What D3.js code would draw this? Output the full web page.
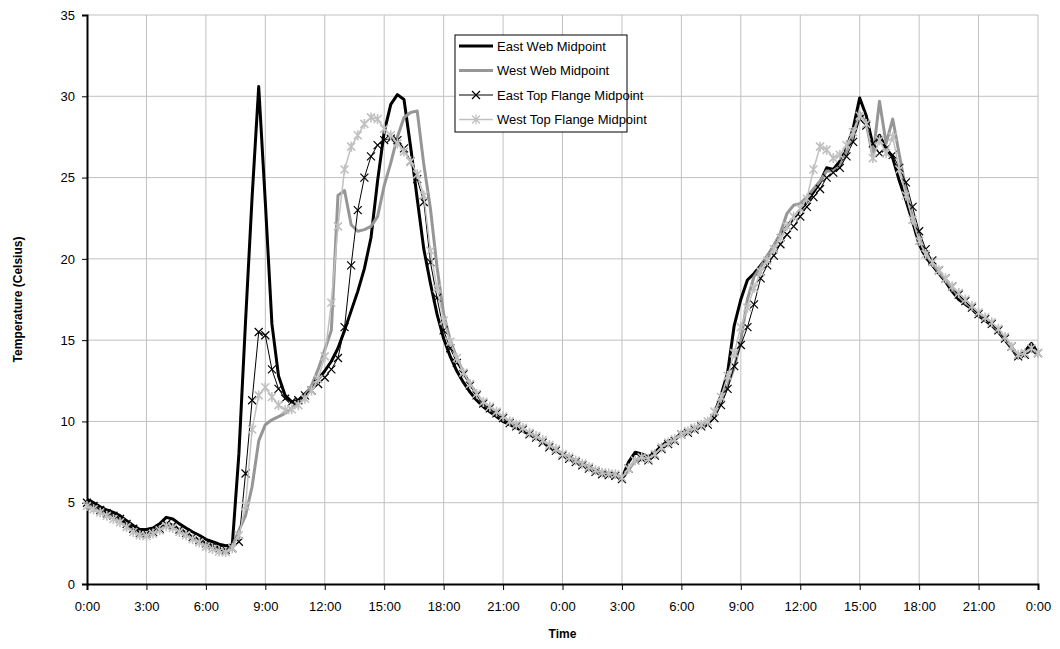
<!DOCTYPE html>
<html>
<head>
<meta charset="utf-8">
<script src="https://cdn.jsdelivr.net/npm/d3@7"></script>
<style>
  body { margin: 0; background: #fff; }
  svg text { font-family: "Liberation Sans", Arial, sans-serif; }
</style>
</head>
<body>
<div id="chart"></div>
<script>
// readings every 20 minutes over two days (index * 20 min)
let stepMinutes = 20;

let eastWeb = [
  5.2, 5.0, 4.75,  4.55, 4.4, 4.2,  3.9, 3.6, 3.35,  3.35, 3.45, 3.7,
  4.1, 4.0, 3.7,  3.45, 3.2, 3.0,  2.75, 2.6, 2.45,  2.35, 2.4, 8.0,
  16.1, 23.8, 30.6,  23.5, 16.0, 12.8,  11.6, 11.2, 11.3,  11.7, 12.1, 12.6,
  13.1, 13.7, 14.5,  15.6, 16.8, 18.0,  19.4, 21.3, 24.8,  27.8, 29.5, 30.1,
  29.8, 26.9, 23.7,  20.6, 18.5, 16.6,  15.1, 14.0, 13.1,  12.4, 11.8, 11.3,
  10.9, 10.6, 10.3,  10.0, 9.8, 9.6,  9.4, 9.2, 9.0,  8.75, 8.5, 8.25,
  8.0, 7.8, 7.6,  7.4, 7.2, 7.0,  6.85, 6.8, 6.8,  6.5, 7.5, 8.1,
  8.0, 7.8, 8.1,  8.5, 8.8, 8.9,  9.3, 9.4, 9.6,  9.75, 9.9, 10.5,
  11.6, 13.0, 15.9,  17.5, 18.7, 19.1,  19.6, 20.1, 20.8,  21.5, 22.0, 22.5,
  23.0, 23.5, 24.1,  24.7, 25.6, 25.5,  26.0, 26.8, 28.0,  29.9, 28.8, 27.0,
  27.6, 26.8, 26.2,  24.8, 23.6, 22.3,  20.9, 20.1, 19.6,  19.1, 18.6, 18.0,
  17.5, 17.2, 16.9,  16.5, 16.2, 15.9,  15.5, 15.0, 14.5,  13.9, 14.3, 14.8,
  14.2
];

let westWeb = [
  4.9, 4.7, 4.5,  4.3, 4.1, 3.9,  3.6, 3.3, 3.1,  3.1, 3.2, 3.4,
  3.7, 3.6, 3.3,  3.1, 2.85, 2.65,  2.45, 2.3, 2.15,  2.05, 2.3, 3.3,
  4.2, 6.0, 8.8,  9.8, 10.1, 10.3,  10.5, 10.8, 11.2,  11.6, 12.2, 13.2,
  14.4, 15.6, 23.9,  24.2, 22.1, 21.7,  21.8, 22.0, 22.6,  24.5, 25.9, 27.5,
  28.7, 29.0, 29.1,  25.8, 23.1, 19.5,  16.6, 15.0, 13.9,  13.0, 12.3, 11.7,
  11.1, 10.8, 10.5,  10.2, 9.95, 9.75,  9.5, 9.25, 9.05,  8.8, 8.5, 8.25,
  8.0, 7.75, 7.55,  7.35, 7.15, 6.95,  6.8, 6.75, 6.7,  6.45, 7.0, 7.6,
  7.7, 7.6, 7.95,  8.35, 8.6, 8.85,  9.2, 9.35, 9.55,  9.7, 9.85, 10.3,
  11.2, 12.2, 13.3,  15.0, 17.5, 18.9,  19.5, 20.2, 20.8,  21.6, 22.8, 23.3,
  23.4, 23.8, 24.3,  24.8, 25.4, 25.4,  25.7, 26.6, 27.6,  29.0, 28.3, 26.3,
  29.7, 27.1, 28.6,  26.4, 24.2, 22.6,  21.3, 20.3, 19.7,  19.2, 18.7, 18.2,
  17.7, 17.3, 17.0,  16.6, 16.3, 16.0,  15.6, 15.1, 14.6,  14.0, 14.2, 14.4,
  14.1
];

let eastFlange = [
  5.0, 4.8, 4.55,  4.35, 4.2, 4.0,  3.7, 3.4, 3.15,  3.1, 3.2, 3.4,
  3.7, 3.6, 3.35,  3.15, 2.9, 2.7,  2.5, 2.35, 2.2,  2.1, 2.2, 2.6,
  6.8, 11.3, 15.5,  15.3, 13.2, 12.0,  11.4, 11.2, 11.3,  11.6, 11.9, 12.3,
  12.7, 13.2, 13.9,  15.8, 19.6, 23.0,  25.0, 26.3, 27.0,  27.3, 27.4, 27.3,
  26.8, 26.0, 24.9,  23.5, 19.8, 17.6,  15.6, 14.5, 13.6,  12.9, 12.2, 11.6,
  11.1, 10.8, 10.5,  10.2, 9.9, 9.7,  9.5, 9.2, 9.0,  8.7, 8.4, 8.2,
  7.9, 7.7, 7.5,  7.3, 7.1, 6.9,  6.75, 6.7, 6.65,  6.45, 7.1, 7.6,
  7.7, 7.6, 7.9,  8.3, 8.6, 8.8,  9.2, 9.3, 9.5,  9.7, 9.8, 10.2,
  11.0, 12.0, 13.4,  14.7, 15.8, 17.2,  18.8, 19.6, 20.2,  20.9, 21.5, 22.0,
  22.6, 23.2, 23.8,  24.3, 25.0, 25.3,  25.6, 26.3, 27.2,  28.6, 28.2, 27.1,
  26.5, 26.8, 26.4,  25.6, 24.7, 23.2,  21.7, 20.6, 19.9,  19.3, 18.8, 18.3,
  17.8, 17.4, 17.0,  16.6, 16.3, 16.0,  15.6, 15.1, 14.6,  14.0, 14.1, 14.4,
  14.2
];

let westFlange = [
  4.8, 4.6, 4.4,  4.2, 4.0, 3.8,  3.5, 3.2, 3.0,  2.95, 3.1, 3.3,
  3.55, 3.45, 3.2,  3.0, 2.75, 2.55,  2.3, 2.15, 2.0,  1.95, 2.2, 3.0,
  4.8, 9.5, 11.6,  12.1, 11.5, 11.0,  10.7, 10.75, 11.0,  11.4, 11.9, 12.6,
  14.0, 17.3, 22.0,  25.5, 26.9, 27.6,  28.3, 28.7, 28.6,  28.0, 27.6, 27.1,
  26.6, 26.0, 25.2,  23.9, 20.5, 18.2,  16.2, 14.9, 13.9,  13.0, 12.3, 11.7,
  11.2, 10.9, 10.6,  10.3, 10.0, 9.8,  9.6, 9.3, 9.1,  8.85, 8.55, 8.3,
  8.0, 7.8, 7.6,  7.4, 7.2, 7.0,  6.85, 6.8, 6.75,  6.55, 7.1, 7.6,
  7.8, 7.7, 8.0,  8.4, 8.7, 8.9,  9.2, 9.4, 9.6,  9.8, 10.0, 10.6,
  11.5, 12.8, 14.2,  15.8, 17.0, 18.2,  19.2, 19.9, 20.6,  21.3, 22.0, 22.6,
  23.1, 23.7, 25.5,  26.9, 26.7, 26.2,  26.4, 27.0, 27.8,  28.8, 28.3, 26.2,
  27.3, 26.5, 27.5,  25.5, 23.9, 22.4,  21.1, 20.3, 19.8,  19.3, 18.8, 18.3,
  17.9, 17.5, 17.1,  16.7, 16.4, 16.1,  15.7, 15.2, 14.6,  14.1, 14.2, 14.5,
  14.2
];

let seriesNames = ["East Web Midpoint", "West Web Midpoint", "East Top Flange Midpoint", "West Top Flange Midpoint"];
let hourTicks = [0, 3, 6, 9, 12, 15, 18, 21, 24, 27, 30, 33, 36, 39, 42, 45, 48];
let tempTicks = [0, 5, 10, 15, 20, 25, 30, 35];

// set the dimensions and margins of the graph
let margin = {top: 15, right: 22, bottom: 65, left: 87},
    width = 1060 - margin.left - margin.right,
    height = 649 - margin.top - margin.bottom;

let x = d3.scaleLinear().domain([0, 48]).range([0, width]);
let y = d3.scaleLinear().domain([0, 35]).range([height, 0]);

// line styles, in the order of seriesNames
let styles = [
  {color: "#000000", width: 3, marker: null},
  {color: "#969696", width: 3, marker: null},
  {color: "#000000", width: 1, marker: "cross"},
  {color: "#c0c0c0", width: 1.5, marker: "star"}
];
let markerPaths = {
  cross: "M-4,-4L4,4M-4,4L4,-4",
  star: "M-4,-4L4,4M-4,4L4,-4M0,-5L0,5"
};

let svg = d3.select("#chart").append("svg")
    .attr("width", width + margin.left + margin.right)
    .attr("height", height + margin.top + margin.bottom)
    .append("g")
    .attr("transform", "translate(" + margin.left + "," + margin.top + ")");

// gridlines
svg.append("g")
    .selectAll("line.hgrid")
    .data(tempTicks.slice(1))
    .enter().append("line")
    .attr("x1", 0).attr("x2", width)
    .attr("y1", d => y(d)).attr("y2", d => y(d))
    .attr("stroke", "#c0c0c0").attr("stroke-width", 1);
svg.append("g")
    .selectAll("line.vgrid")
    .data(hourTicks.slice(1))
    .enter().append("line")
    .attr("y1", 0).attr("y2", height)
    .attr("x1", d => x(d)).attr("x2", d => x(d))
    .attr("stroke", "#c0c0c0").attr("stroke-width", 1);

// axes
let xAxis = svg.append("g")
    .attr("transform", "translate(0," + height + ")")
    .call(d3.axisBottom(x).tickValues(hourTicks).tickSize(6).tickPadding(12)
        .tickFormat(d => (d % 24) + ":00"));
let yAxis = svg.append("g")
    .call(d3.axisLeft(y).tickValues(tempTicks).tickSize(5).tickPadding(7));

[xAxis, yAxis].forEach(function(ax) {
  ax.select(".domain").attr("stroke", "#000").attr("stroke-width", 2);
  ax.selectAll(".tick line").attr("stroke", "#000");
  ax.selectAll(".tick text")
      .attr("fill", "#000")
      .style("font-size", "13px")
      .style("font-family", "'Liberation Sans', Arial, sans-serif");
});

// series
let allSeries = [eastWeb, westWeb, eastFlange, westFlange];
let line = d3.line()
    .x((d, i) => x(i * stepMinutes / 60))
    .y(d => y(d));

allSeries.forEach(function(values, k) {
  let st = styles[k];
  svg.append("path")
      .datum(values)
      .attr("fill", "none")
      .attr("stroke", st.color)
      .attr("stroke-width", st.width)
      .attr("stroke-linejoin", "round")
      .attr("d", line);

  if (st.marker) {
    svg.append("g")
        .selectAll("path")
        .data(values)
        .enter().append("path")
        .attr("transform", (d, i) => "translate(" + x(i * stepMinutes / 60) + "," + y(d) + ")")
        .attr("d", markerPaths[st.marker])
        .attr("fill", "none")
        .attr("stroke", st.color)
        .attr("stroke-width", st.marker === "star" ? 1.6 : 1.2);
  }
});

// legend
let legend = svg.append("g")
    .attr("transform", "translate(" + (455 - margin.left) + "," + (35 - margin.top) + ")");
legend.append("rect")
    .attr("x", 0).attr("y", 0)
    .attr("width", 172).attr("height", 97)
    .attr("fill", "#fff")
    .attr("stroke", "#000").attr("stroke-width", 1);

let rows = legend.selectAll("g.row")
    .data(seriesNames)
    .enter().append("g")
    .attr("transform", (d, i) => "translate(0," + (11 + i * 24.5) + ")");
rows.append("line")
    .attr("x1", 4).attr("x2", 38)
    .attr("y1", 0).attr("y2", 0)
    .attr("stroke", (d, i) => styles[i].color)
    .attr("stroke-width", (d, i) => styles[i].width);
rows.filter((d, i) => styles[i].marker)
    .append("path")
    .attr("transform", "translate(21,0)")
    .attr("d", (d) => markerPaths[styles[seriesNames.indexOf(d)].marker])
    .attr("fill", "none")
    .attr("stroke", (d) => styles[seriesNames.indexOf(d)].color)
    .attr("stroke-width", 1.2);
rows.append("text")
    .attr("x", 42)
    .attr("y", 0)
    .attr("dy", "0.35em")
    .style("font-size", "13px")
    .attr("fill", "#000")
    .text(d => d);

// text label for the x axis
svg.append("text")
    .attr("x", width / 2)
    .attr("y", height + 54)
    .style("text-anchor", "middle")
    .style("font-size", "12px")
    .style("font-weight", "bold")
    .text("Time");

// text label for the y axis
svg.append("text")
    .attr("transform", "rotate(-90)")
    .attr("x", 0 - (height / 2))
    .attr("y", 22 - margin.left)
    .style("text-anchor", "middle")
    .style("font-size", "12px")
    .style("font-weight", "bold")
    .text("Temperature (Celsius)");
</script>
</body>
</html>
